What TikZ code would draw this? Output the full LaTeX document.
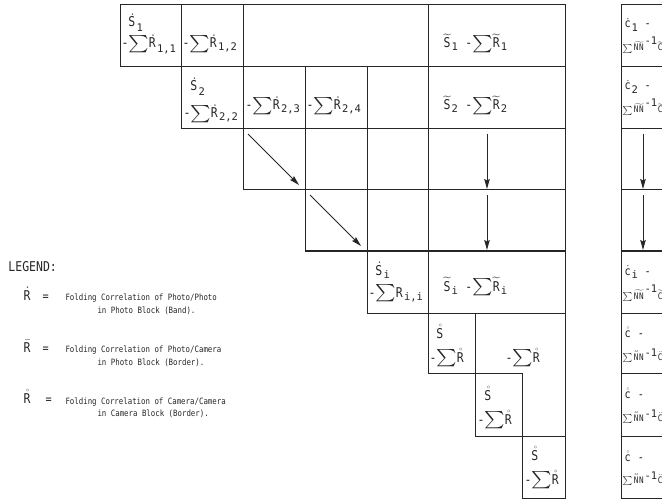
\documentclass[tikz,border=0pt]{standalone}
\usepackage{amsmath}
\usepackage{fontspec}
\usepackage{graphicx}
\setmainfont[FakeStretch=0.85]{DejaVu Sans Mono}
\setmathrm[FakeStretch=0.85]{DejaVu Sans Mono}
\newfontfamily\indfont{DejaVu Sans Mono}
\usetikzlibrary{arrows.meta}

\newcommand{\ix}[1]{\hbox{\fontsize{10.5}{10.5}\indfont #1}}
\newcommand{\ixl}[1]{\lower2pt\hbox{\fontsize{10.5}{10.5}\indfont #1}}
\newcommand{\Sig}{\scalebox{1.35}[1.2]{$\textstyle\sum$}}

\begin{document}
\begin{tikzpicture}[x=1pt, y=-1pt, line width=1pt, line cap=rect, color=black!85,
    cellule/.style={font=\fontsize{13.5}{16}\selectfont, inner sep=0pt, anchor=base west},
    petit/.style={font=\fontsize{12}{14}\selectfont, inner sep=0pt, anchor=base west},
    somme/.style={font=\fontsize{9}{11}\selectfont, inner sep=0pt, anchor=base west},
    legende/.style={font=\fontsize{8.7}{10}\selectfont, inner sep=0pt, anchor=base west},
    fleche/.style={-{Stealth[length=10pt, width=5.5pt, inset=1.5pt]}, line width=1pt, line cap=butt}]

    \clip (0,0) rectangle (662,500);

    % Grille (bloc photo + bloc camera)
    \draw (120,5) -- (565,5)  (120,67) -- (565,67)  (181,129) -- (565,129)
          (243,190) -- (565,190)  (305,251) -- (565,251)  (367,313) -- (565,313)
          (428,373) -- (522,373)  (475,436) -- (565,436)  (522,498) -- (565,498);
    \draw (120,5) -- (120,67)  (181,5) -- (181,129)  (243,5) -- (243,190)
          (305,67) -- (305,251)  (367,67) -- (367,313)  (428,5) -- (428,373)
          (475,313) -- (475,436)  (522,373) -- (522,498)  (565,5) -- (565,498);

    % Colonne de droite
    \draw (621,5) -- (621,498)
          (621,5) -- (670,5)  (621,67) -- (670,67)  (621,129) -- (670,129)
          (621,190) -- (670,190)  (621,251) -- (670,251)  (621,313) -- (670,313)
          (621,373) -- (670,373)  (621,436) -- (670,436)  (621,498) -- (670,498);

    % Bande photo
    \node[cellule] (S1) at (121,27) {\hphantom{-}$\dot{\mathrm S}_{\ixl{1}}$};
    \node[cellule] (R11) at (121,48) {-$\Sig\dot{\mathrm R}_{\ixl{1,1}}$};
    \node[cellule] (R12) at (182,48) {-$\Sig\dot{\mathrm R}_{\ix{1,2}}$};
    \node[cellule] (S2) at (183,91) {\hphantom{-}$\dot{\mathrm S}_{\ixl{2}}$};
    \node[cellule] (R22) at (183,118) {-$\Sig\dot{\mathrm R}_{\ix{2,2}}$};
    \node[cellule] (R23) at (245,110) {-$\Sig\dot{\mathrm R}_{\ix{2,3}}$};
    \node[cellule] (R24) at (306,110) {-$\Sig\dot{\mathrm R}_{\ix{2,4}}$};
    \node[cellule] (Si) at (368,275) {\hphantom{-}$\dot{\mathrm S}_{\ix{i}}$};
    \node[cellule] (Rii) at (368,297) {-$\Sig\mathrm R_{\ix{i,i}}$};

    % Bordure photo
    \node[cellule] (B1) at (443,48) {$\widetilde{\mathrm S}_{\ix{1}}$ -$\Sig\widetilde{\mathrm R}_{\ix{1}}$};
    \node[cellule] (B2) at (443,110) {$\widetilde{\mathrm S}_{\ix{2}}$ -$\Sig\widetilde{\mathrm R}_{\ix{2}}$};
    \node[cellule] (Bi) at (443,291) {$\widetilde{\mathrm S}_{\ix{i}}$ -$\Sig\widetilde{\mathrm R}_{\ix{i}}$};

    % Bloc camera
    \node[cellule] (C1) at (429,338) {\hphantom{-}$\mathring{\mathrm S}$};
    \node[cellule] (K1) at (429,362) {-$\Sig\mathring{\mathrm R}$};
    \node[cellule] (K12) at (505,362) {-$\Sig\mathring{\mathrm R}$};
    \node[cellule] (C2) at (477,400) {\hphantom{-}$\mathring{\mathrm S}$};
    \node[cellule] (K2) at (477,424) {-$\Sig\mathring{\mathrm R}$};
    \node[cellule] (C3) at (524,460) {\hphantom{-}$\mathring{\mathrm S}$};
    \node[cellule] (K3) at (524,484) {-$\Sig\mathring{\mathrm R}$};

    % Colonne de droite : c
    \node[petit] (c1) at (624,28) {$\dot{\mathrm c}_{\ix{1}}$ -};
    \node[somme] (n1) at (622,51) {$\sum\widetilde{\mathrm{NN}}^{\ix{-1}}\widetilde{\mathrm C}\widetilde{\mathrm C}$};
    \node[petit] (c2) at (624,90) {$\dot{\mathrm c}_{\ix{2}}$ -};
    \node[somme] (n2) at (622,113) {$\sum\widetilde{\mathrm{NN}}^{\ix{-1}}\widetilde{\mathrm C}\widetilde{\mathrm C}$};
    \node[petit] (ci) at (624,275) {$\dot{\mathrm c}_{\ix{i}}$ -};
    \node[somme] (ni) at (622,299) {$\sum\widetilde{\mathrm{NN}}^{\ix{-1}}\widetilde{\mathrm C}\widetilde{\mathrm C}$};
    \node[petit] (cc1) at (624,337) {$\mathring{\mathrm c}$ -};
    \node[somme] (m1) at (622,360) {$\sum\ddot{\bar{\mathrm N}}\mathrm N^{\ix{-1}}\ddot{\mathrm C}\ddot{\mathrm C}$};
    \node[petit] (cc2) at (624,398) {$\mathring{\mathrm c}$ -};
    \node[somme] (m2) at (622,421) {$\sum\ddot{\bar{\mathrm N}}\mathrm N^{\ix{-1}}\ddot{\mathrm C}\ddot{\mathrm C}$};
    \node[petit] (cc3) at (624,461) {$\mathring{\mathrm c}$ -};
    \node[somme] (m3) at (622,483) {$\sum\ddot{\bar{\mathrm N}}\mathrm N^{\ix{-1}}\ddot{\mathrm C}\ddot{\mathrm C}$};

    % Fleches
    \coordinate (d3a) at (248,134);  \coordinate (d3b) at (299,185);
    \coordinate (d4a) at (310,195);  \coordinate (d4b) at (361,246);
    \coordinate (v3a) at (487,134);  \coordinate (v3b) at (487,189);
    \coordinate (v4a) at (487,195);  \coordinate (v4b) at (487,250);
    \coordinate (w3a) at (643,134);  \coordinate (w3b) at (643,189);
    \coordinate (w4a) at (643,195);  \coordinate (w4b) at (643,250);
    \draw[fleche] (d3a) -- (d3b);
    \draw[fleche] (d4a) -- (d4b);
    \draw[fleche] (v3a) -- (v3b);
    \draw[fleche] (v4a) -- (v4b);
    \draw[fleche] (w3a) -- (w3b);
    \draw[fleche] (w4a) -- (w4b);

    % Legende
    \node[cellule] (leg) at (8,272) {LEGEND:};
    \node[cellule] (L1) at (23,300) {$\dot{\mathrm R}$};
    \node[petit] (e1) at (42,300) {=};
    \node[legende] (t1a) at (65,300) {Folding Correlation of Photo/Photo};
    \node[legende] (t1b) at (97,313) {in Photo Block (Band).};
    \node[cellule] (L2) at (23,352) {$\bar{\mathrm R}$};
    \node[petit] (e2) at (42,352) {=};
    \node[legende] (t2a) at (65,352) {Folding Correlation of Photo/Camera};
    \node[legende] (t2b) at (97,365) {in Photo Block (Border).};
    \node[cellule] (L3) at (23,403) {$\mathring{\mathrm R}$};
    \node[petit] (e3) at (45,403) {=};
    \node[legende] (t3a) at (65,404) {Folding Correlation of Camera/Camera};
    \node[legende] (t3b) at (97,416) {in Camera Block (Border).};
\end{tikzpicture}
\end{document}
